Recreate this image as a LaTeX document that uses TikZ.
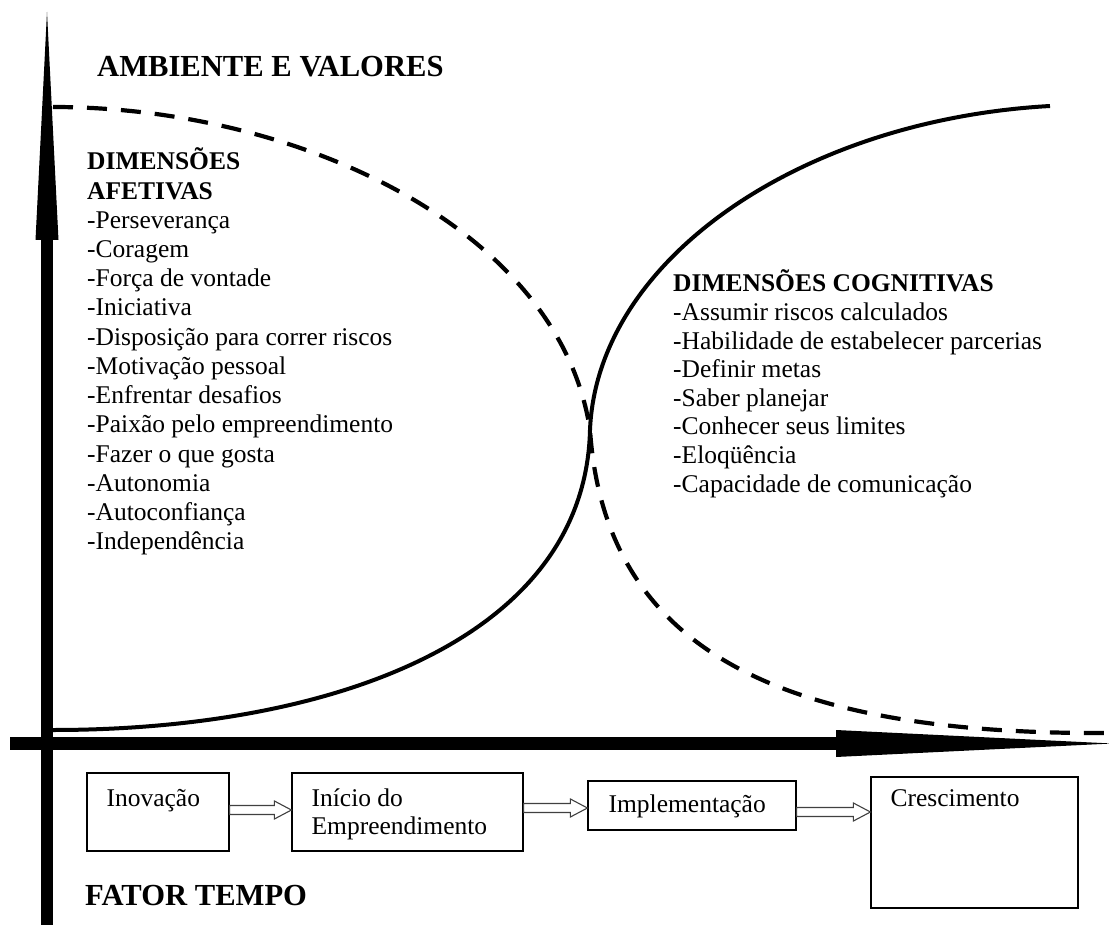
\documentclass[tikz,border=0pt]{standalone}
\usepackage{fontspec}
\setmainfont{Liberation Serif}
\usetikzlibrary{calc, positioning}

\tikzset{
  eixo/.style={line width=12.5pt},
  ponta/.style={fill=black},
  curva/.style={line width=4pt},
  tracejada/.style={line width=4.2pt, dash pattern=on 20pt off 14pt},
  txt/.style={inner sep=0pt, anchor=base west, font=\fontsize{25.5}{29}\selectfont},
  titulo/.style={txt, font=\fontsize{30.6}{36}\selectfont\bfseries},
  subtitulo/.style={txt, font=\fontsize{25.5}{29}\selectfont\bfseries},
  etapa/.style={draw, line width=1.2pt, inner sep=0pt},
  seta/.style={draw=black!75, fill=white, line width=1.1pt},
}

% seta vazada entre duas etapas: origem, destino, altura
\newcommand{\setaoca}[3]{%
  \path (#1.east |- 0,#3) coordinate (s0) (#2.west |- 0,#3) coordinate (s1);
  \draw[seta] ($(s0)+(0,-4.5)$) -- ($(s1)+(-17,-4.5)$) -- ($(s1)+(-17,-9)$) -- (s1)
    -- ($(s1)+(-17,9)$) -- ($(s1)+(-17,4.5)$) -- ($(s0)+(0,4.5)$) -- cycle;
}

\begin{document}
\begin{tikzpicture}[x=1pt, y=-1pt]
    \useasboundingbox (0,0) rectangle (1109,925);

    % Eixos
    \draw[eixo] (47,925) -- (47,239);
    \fill[ponta] (35.5,240) -- (58.5,240) -- (47,12) -- cycle;
    \draw[eixo] (10,743.5) -- (837,743.5);
    \fill[ponta] (836,730) -- (836,757) -- (1112,743.5) -- cycle;

    % Curvas
    \draw[curva] (53,730) .. controls (330,730) and (585,640) .. (590,430)
        .. controls (597,260) and (800,120) .. (1050,106);
    \draw[tracejada] (53,107) .. controls (300,107) and (560,230) .. (590,430)
        .. controls (605,650) and (780,735) .. (1109,733);

    % Textos
    \node[titulo] (ambiente) at (97,77) {AMBIENTE E VALORES};
    \node[subtitulo] (afet-a) at (87,170) {DIMENSÕES};
    \node[subtitulo] (afet-b) at (87,199.2) {AFETIVAS};
    \foreach \texto [count=\i] in {Perseverança, Coragem, Força de vontade, Iniciativa,
        Disposição para correr riscos, Motivação pessoal, Enfrentar desafios,
        Paixão pelo empreendimento, Fazer o que gosta, Autonomia, Autoconfiança,
        Independência}
        \node[txt] (afet-\i) at (87,{199.2+29.2*\i}) {-\texto};

    \node[subtitulo] (cogn) at (673,292) {DIMENSÕES COGNITIVAS};
    \foreach \texto [count=\i] in {Assumir riscos calculados,
        Habilidade de estabelecer parcerias, Definir metas, Saber planejar,
        Conhecer seus limites, Eloqüência, Capacidade de comunicação}
        \node[txt] (cogn-\i) at (673,{292+28.6*\i}) {-\texto};

    % Etapas
    \node[etapa, minimum width=142pt, minimum height=78pt] (inovacao) at (158,812) {};
    \node[txt] (t-inovacao) at ($(inovacao.north west)+(20,34)$) {Inovação};
    \node[etapa, minimum width=231pt, minimum height=78pt] (inicio) at (407.5,812) {};
    \node[txt] (t-inicio-a) at ($(inicio.north west)+(20,34)$) {Início do};
    \node[txt] (t-inicio-b) at ($(inicio.north west)+(20,62)$) {Empreendimento};
    \node[etapa, minimum width=208pt, minimum height=49pt] (implementacao) at (692,805.5) {};
    \node[txt] (t-implementacao) at ($(implementacao.north west)+(21,32)$) {Implementação};
    \node[etapa, minimum width=207pt, minimum height=131pt] (crescimento) at (974.5,842.5) {};
    \node[txt] (t-crescimento) at ($(crescimento.north west)+(20,30)$) {Crescimento};

    \setaoca{inovacao}{inicio}{810}
    \setaoca{inicio}{implementacao}{808}
    \setaoca{implementacao}{crescimento}{812}

    \node[titulo] (tempo) at (85,905) {FATOR TEMPO};
\end{tikzpicture}
\end{document}
